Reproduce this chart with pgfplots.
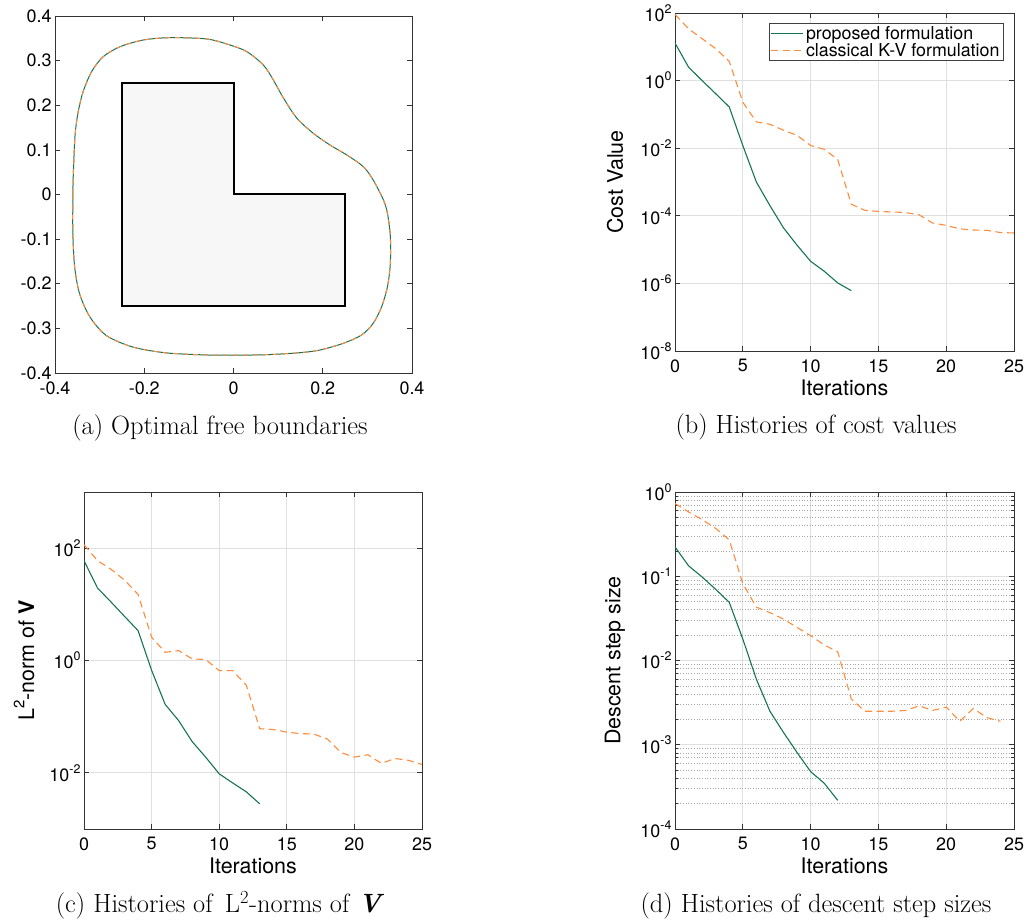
\documentclass[border=0pt]{standalone}
\usepackage{pgfplots}
\pgfplotsset{compat=1.18}
\usepackage{fontspec}
\newfontfamily\hv{TeX Gyre Heros}
\definecolor{cgreen}{RGB}{22,116,86}
\definecolor{corange}{RGB}{255,140,60}
\newcommand\tp[1]{10\raisebox{0.45em}{\fontsize{12.5}{13}\selectfont #1}}

\pgfplotsset{
  myax/.style={scale only axis, anchor=south west,
    axis line style={line width=0.9bp, black!80},
    tick style={line width=0.7bp, black!80},
    major tick length=5bp, minor tick length=3bp, tick align=inside,
    tick label style={font=\hv\fontsize{18}{20}\selectfont},
    xticklabel style={yshift=-5bp},
    label style={font=\hv\fontsize{21.5}{24}\selectfont},
    /pgf/number format/assume math mode=true,
    grid style={line width=0.7bp, black!12}},
  iterax/.style={xmin=0, xmax=25, xtick={0,5,10,15,20,25},
    xmajorgrids, ymajorgrids,
    xlabel={Iterations},
    xlabel style={at={(axis description cs:0.5,-0.11)}, anchor=center},
    ylabel style={at={(axis description cs:-0.177,0.5)}, anchor=center}},
  gline/.style={cgreen, line width=1.1bp},
  oline/.style={corange, line width=1.1bp, dash pattern=on 7bp off 4.5bp},
}

\pgfplotstableread{
x y
-0.360 0.000
-0.360 -0.0875
-0.356 -0.162
-0.345 -0.222
-0.322 -0.274
-0.285 -0.316
-0.225 -0.342
-0.150 -0.355
-0.061 -0.3596
0.000 -0.360
0.074 -0.359
0.149 -0.3545
0.194 -0.3485
0.246 -0.3335
0.287 -0.3149
0.313 -0.2887
0.332 -0.2514
0.345 -0.2066
0.351 -0.1618
0.352 -0.1244
0.351 -0.0870
0.345 -0.0422
0.336 -0.0123
0.313 0.0325
0.291 0.0623
0.254 0.0885
0.216 0.111
0.179 0.137
0.142 0.171
0.112 0.216
0.089 0.257
0.067 0.290
0.030 0.320
-0.008 0.335
-0.060 0.3485
-0.142 0.3514
-0.202 0.3462
-0.254 0.3312
-0.292 0.3088
-0.318 0.2752
-0.337 0.2304
-0.348 0.1855
-0.355 0.1333
-0.359 0.0437
-0.360 0.000
}\boundary

\pgfplotstableread{
x y
0 12.9
1 2.5
2 1.0
3 0.41
4 0.166
5 0.012
6 1e-3
7 2e-4
8 4.4e-5
9 1.35e-5
10 4.5e-6
11 2.3e-6
12 1.03e-6
13 6.1e-7
}\costP

\pgfplotstableread{
x y
0 91
1 34
2 17.4
3 8.8
4 3.7
5 0.23
6 0.06
7 0.051
8 0.034
9 0.024
10 0.012
11 0.0093
12 0.0046
13 2.2e-4
14 1.45e-4
15 1.35e-4
16 1.3e-4
17 1.25e-4
18 1.07e-4
19 6.1e-5
20 5.2e-5
21 4.1e-5
22 3.8e-5
23 3.7e-5
24 3.2e-5
25 3.1e-5
}\costC

\pgfplotstableread{
x y
0 60
1 19.5
2 11
3 6.1
4 3.4
5 0.67
6 0.166
7 0.085
8 0.036
9 0.019
10 0.0096
11 0.0066
12 0.0046
13 0.0028
}\normP

\pgfplotstableread{
x y
0 115
1 60
2 42
3 27
4 15
5 2.6
6 1.4
7 1.5
8 1.07
9 1.04
10 0.66
11 0.66
12 0.365
13 0.061
14 0.059
15 0.053
16 0.05
17 0.049
18 0.04
19 0.023
20 0.019
21 0.021
22 0.0147
23 0.018
24 0.0167
25 0.0141
}\normC

\pgfplotstableread{
x y
0 0.223
1 0.133
2 0.098
3 0.070
4 0.049
5 0.018
6 0.006
7 0.0025
8 0.0014
9 8.1e-4
10 4.8e-4
11 3.5e-4
12 2.19e-4
}\stepP

\pgfplotstableread{
x y
0 0.73
1 0.58
2 0.47
3 0.37
4 0.27
5 0.082
6 0.043
7 0.037
8 0.031
9 0.0247
10 0.0197
11 0.0153
12 0.0127
13 0.0035
14 0.0025
15 0.0025
16 0.0025
17 0.00255
18 0.0029
19 0.00255
20 0.0028
21 0.0019
22 0.0027
23 0.0021
24 0.0019
}\stepC

\begin{document}
\begin{tikzpicture}
\useasboundingbox (0,0) rectangle (1027bp,922bp);

% (a)
\begin{axis}[myax, at={(55bp,549bp)}, width=357bp, height=357bp,
  xmin=-0.4, xmax=0.4, ymin=-0.4, ymax=0.4,
  xtick={-0.4,-0.2,0,0.2,0.4}, xticklabels={-0.4,-0.2,0,0.2,0.4},
  ytick={-0.4,-0.3,-0.2,-0.1,0,0.1,0.2,0.3,0.4},
  yticklabels={-0.4,-0.3,-0.2,-0.1,0,0.1,0.2,0.3,0.4}]
\addplot[fill=black!3, draw=black, line width=2bp] coordinates
  {(-0.25,0.25) (0,0.25) (0,0) (0.25,0) (0.25,-0.25) (-0.25,-0.25)} -- cycle;
\addplot[gline, line width=1bp, smooth] table[x=x,y=y] {\boundary};
\addplot[oline, line width=1bp, smooth, dash pattern=on 5bp off 5bp] table[x=x,y=y] {\boundary};
\end{axis}

% (b)
\begin{axis}[ymode=log, myax, iterax, at={(675bp,571bp)}, width=339bp, height=338bp,
  ymin=1e-8, ymax=1e2, ytick={1e-8,1e-6,1e-4,1e-2,1,1e2},
  yticklabels={\tp{-8},\tp{-6},\tp{-4},\tp{-2},\tp{0},\tp{2}},
  ylabel={Cost Value},
  legend style={at={(rel axis cs:0.97,0.97)}, anchor=north east,
    font=\hv\fontsize{17.9}{19}\selectfont, draw=black!75, line width=0.8bp,
    inner xsep=2bp, inner ysep=1bp, row sep=-2bp, cells={anchor=west}},
  legend image code/.code={\draw[#1] (0bp,0bp) -- (32bp,0bp);}]
\addplot[gline] table[x=x,y=y] {\costP};
\addlegendentry{proposed formulation}
\addplot[oline] table[x=x,y=y] {\costC};
\addlegendentry{classical K-V formulation}
\end{axis}

% (c)
\begin{axis}[ymode=log, myax, iterax, at={(84bp,93bp)}, width=338bp, height=337bp,
  ymin=1e-3, ymax=1e3, ytick={1e-2,1,1e2},
  yticklabels={\tp{-2},\tp{0},\tp{2}},
  ylabel={L\raisebox{0.45em}{\fontsize{15}{15}\selectfont 2}-norm of \textbf{V}}]
\addplot[gline] table[x=x,y=y] {\normP};
\addplot[oline] table[x=x,y=y] {\normC};
\end{axis}

% (d)
\begin{axis}[ymode=log, myax, iterax, at={(675bp,93bp)}, width=339bp, height=337bp,
  ymin=1e-4, ymax=1, ytick={1e-4,1e-3,1e-2,1e-1,1},
  yticklabels={\tp{-4},\tp{-3},\tp{-2},\tp{-1},\tp{0}},
  minor ytick={2e-4,3e-4,4e-4,5e-4,6e-4,7e-4,8e-4,9e-4,
    2e-3,3e-3,4e-3,5e-3,6e-3,7e-3,8e-3,9e-3,
    2e-2,3e-2,4e-2,5e-2,6e-2,7e-2,8e-2,9e-2,
    2e-1,3e-1,4e-1,5e-1,6e-1,7e-1,8e-1,9e-1},
  yminorgrids, minor grid style={line width=0.7bp, black!35, dotted},
  ylabel={Descent step size}]
\addplot[gline] table[x=x,y=y] {\stepP};
\addplot[oline] table[x=x,y=y] {\stepC};
\end{axis}

\node[anchor=base, font=\fontsize{26.5}{30}\selectfont] at (220bp,487bp) {(a) Optimal free boundaries};
\node[anchor=base, font=\fontsize{26.5}{30}\selectfont] at (816bp,488bp) {(b) Histories of cost values};
\node[anchor=base, font=\fontsize{26.5}{30}\selectfont] at (220bp,10bp) {(c) Histories of\, L\textsuperscript{2}-norms of \textbf{\textit{V}}};
\node[anchor=base, font=\fontsize{26.5}{30}\selectfont] at (816bp,10bp) {(d) Histories of descent step sizes};
\end{tikzpicture}
\end{document}
